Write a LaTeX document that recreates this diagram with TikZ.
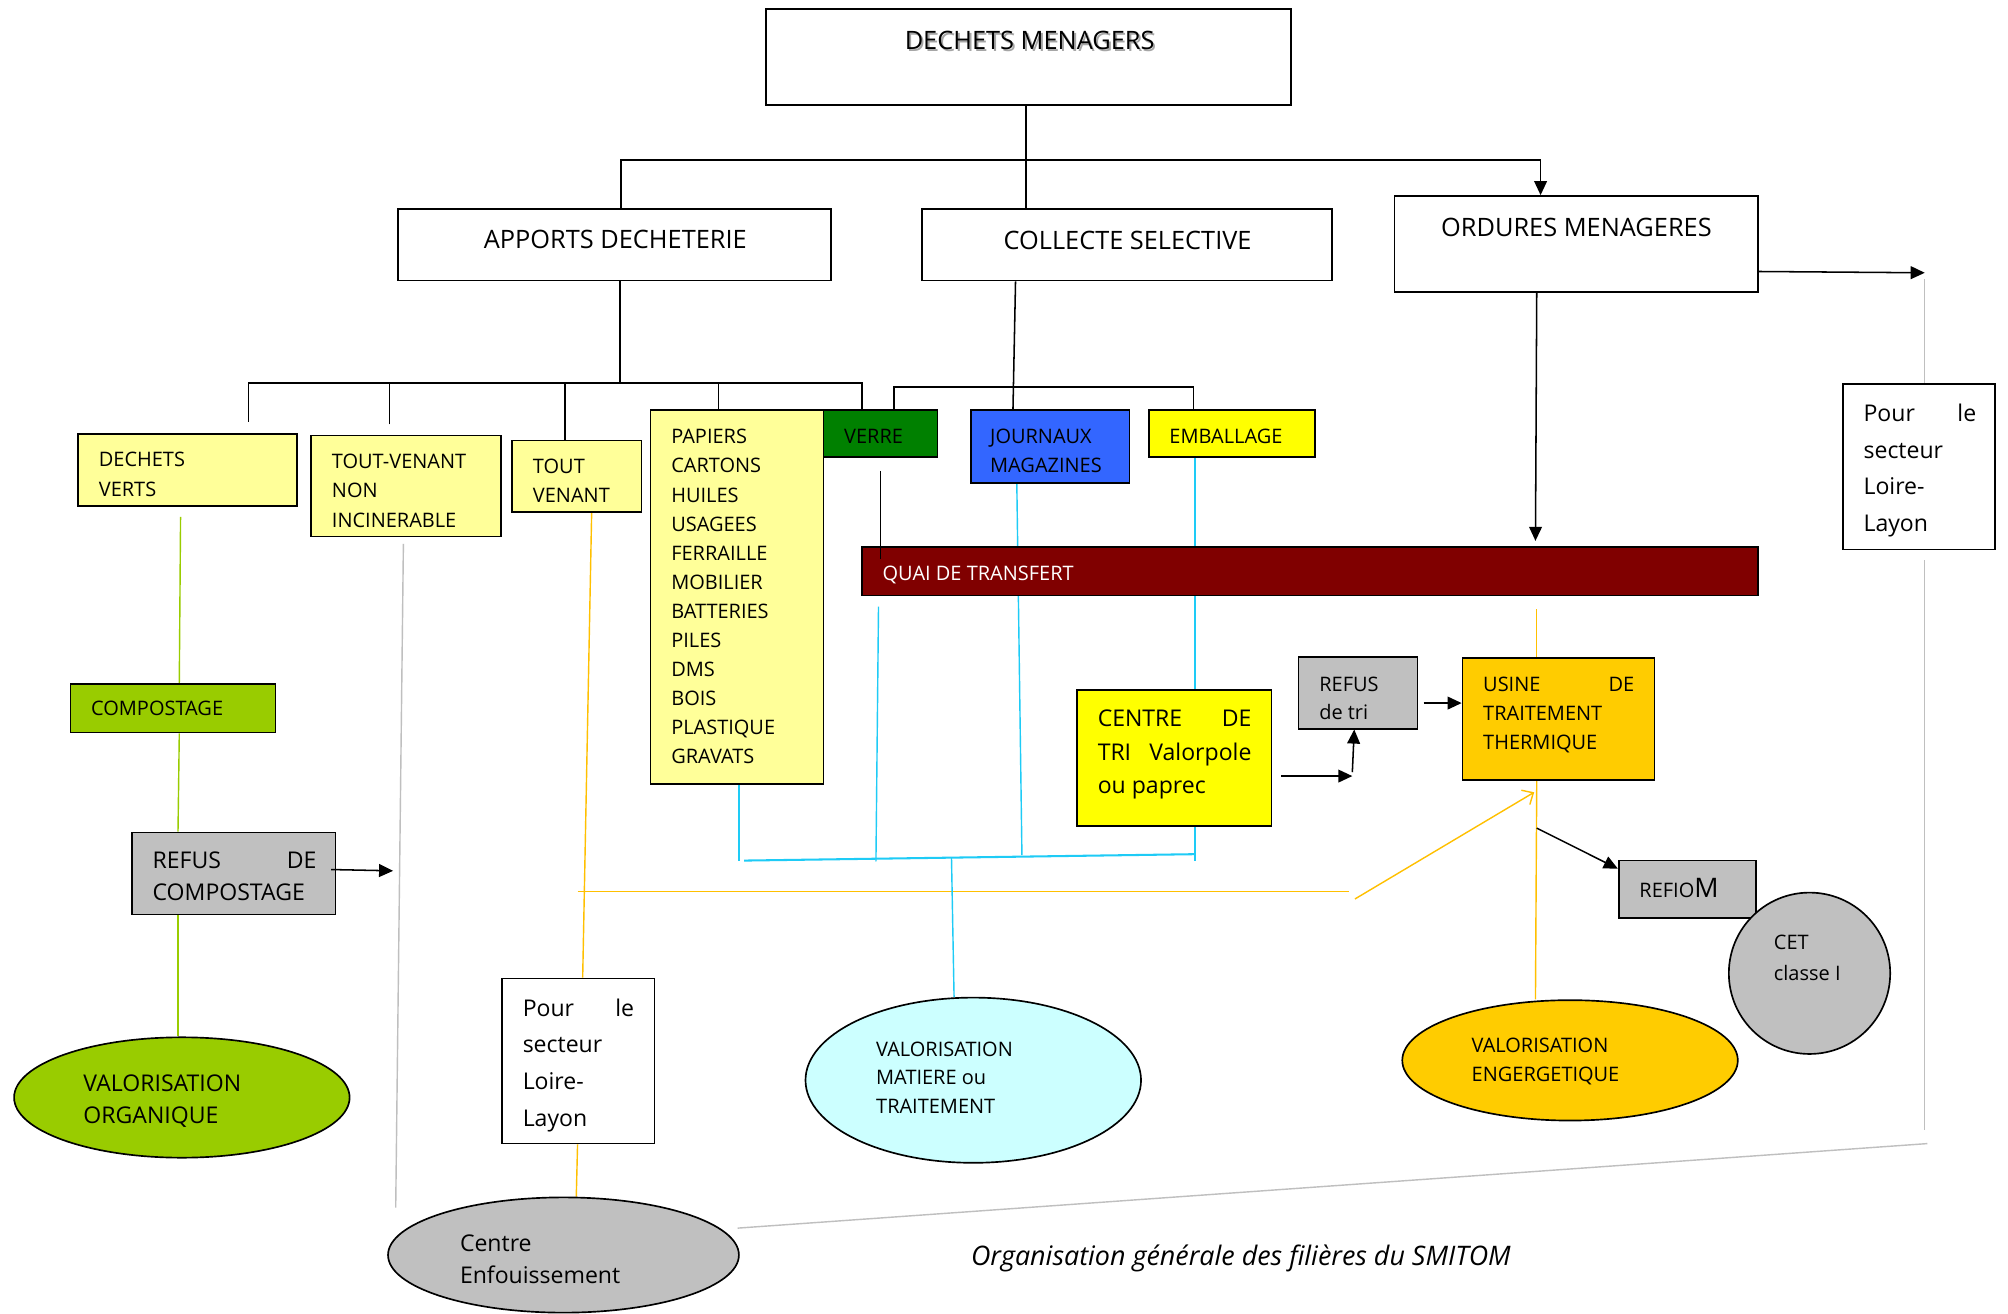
\documentclass[tikz,border=0pt]{standalone}
\usepackage{fontspec}
\setmainfont{Open Sans}
\usetikzlibrary{shapes.geometric,arrows.meta,calc}
\pgfdeclarelayer{bg}
\pgfsetlayers{bg,main}
\definecolor{lyel}{HTML}{FFFF99}
\definecolor{vgreen}{HTML}{008000}
\definecolor{jblue}{HTML}{3366FF}
\definecolor{yel}{HTML}{FFFF00}
\definecolor{dred}{HTML}{800000}
\definecolor{lgreen}{HTML}{99CC00}
\definecolor{lgray}{HTML}{C0C0C0}
\definecolor{gold}{HTML}{FFCC00}
\definecolor{lcyan}{HTML}{CCFFFF}
\definecolor{cyanl}{HTML}{1ECBF6}
\definecolor{goldl}{HTML}{FFC000}
\definecolor{grayl}{HTML}{BFBFBF}
\newcommand\fSm{\fontsize{15.6}{18}\selectfont}
\newcommand\fMd{\fontsize{18}{22}\selectfont}
\newcommand\fLg{\fontsize{19.8}{24}\selectfont}
\newcommand\fCap{\fontsize{21}{25}\selectfont}
\newcommand\bxc[6][white]{\node[box,fill=#1,minimum width=#5-#3,minimum height=#6-#4] (#2) at ({(#3+#5)/2},{(#4+#6)/2}) {};}
\newcommand\elc[6][white]{\node[ell,fill=#1,minimum width=#5,minimum height=#6] (#2) at (#3,#4) {};}
\newcommand\tlines[6][]{\foreach \lt [count=\kt] in {#6}{\node[txt,#1] (#2\kt) at (#3,{#4+(\kt-1)*#5}) {\lt};}}
\begin{document}
\begin{tikzpicture}[x=1pt,y=-1pt,font=\fSm,
  box/.style={draw=black,line width=1.3pt,rectangle,inner sep=0pt},
  ell/.style={draw=black,line width=1.3pt,ellipse,inner sep=0pt},
  txt/.style={anchor=base west,inner sep=0pt},
  conn/.style={draw=black,line width=1.2pt},
  arr/.style={-{Triangle[length=11pt,width=10pt]}},
  yarr/.style={-{Straight Barb[length=7pt,width=13pt]}},
  gline/.style={draw=lgreen,line width=1.1pt},
  grline/.style={draw=grayl,line width=1.1pt},
  yline/.style={draw=goldl,line width=1.1pt},
  cline/.style={draw=cyanl,line width=1.1pt}]
\useasboundingbox (0,0) rectangle (1568,1026);
% boxes
\bxc{dm}{598}{7}{1008}{82}
\bxc{ad}{311}{163}{649}{219}
\bxc{cs}{720}{163}{1040}{219}
\bxc{om}{1089}{153}{1373}{228}
\bxc[lyel]{dv}{61}{339}{232}{395}
\bxc[lyel]{tvn}{243}{340}{391}{419}
\bxc[lyel]{tv}{400}{344}{501}{400}
\bxc[lyel]{pap}{508}{320}{643}{612}
\bxc[vgreen]{ver}{643}{320}{732}{357}
\bxc[jblue]{jou}{758}{320}{882}{377}
\bxc[yel]{emb}{897}{320}{1027}{357}
\bxc[dred]{quai}{673}{427}{1373}{465}
\bxc[lgreen]{comp}{55}{534}{215}{572}
\bxc[lgray]{rc}{103}{650}{262}{714}
\bxc[yel]{ctri}{841}{539}{993}{645}
\bxc[lgray]{rt}{1014}{513}{1107}{569}
\bxc[gold]{us}{1142}{514}{1292}{609}
\bxc[lgray]{rf}{1264}{672}{1371}{717}
\bxc{prb}{1439}{300}{1558}{429}
\bxc{pm}{392}{764}{511}{893}
\elc[lgreen]{vo}{142}{857}{262}{94}
\elc[lcyan]{vm}{760}{843.5}{262}{129}
\elc[gold]{ve}{1226}{828}{262}{94}
\elc[lgray]{cet}{1413}{760}{126}{126}
\elc[lgray]{cent}{440}{980}{274}{90}
% free coordinates
\coordinate (bar1) at (801,125);
\coordinate (bar2) at (484,299);
\coordinate (bar3) at (800,302);
\coordinate (omr) at (1503,213);
\coordinate (kink) at (1056,606);
\coordinate (rcend) at (307,680);
\coordinate (tvnend) at (309,943);
\coordinate (grayR) at (1503,882);
\coordinate (grayB) at (1505,893);
\coordinate (yelL) at (451,696);
\coordinate (yelR) at (1053,696);
\coordinate (yelS) at (1058,702);
\coordinate (cyL) at (581,672);
\coordinate (cyR) at (933,667);
\coordinate (cyM) at (743,670);
\begin{pgfonlayer}{bg}
\fill[white] (0,0) rectangle (1568,1026);
% black tree
\draw[conn] ($(dm.south)+(-2,0)$) -- ($(dm.south|-cs.north)+(-2,0)$);
\draw[conn,arr] ($(ad.north)+(5,0)$) |- (bar1) -| ($(om.north)+(-28,0)$);
\draw[conn] ($(ad.south)+(4,0)$) -- (bar2);
\draw[conn] ($(dv.north)+(47.5,-9)$) |- (bar2) -| ($(ver.north)+(-14.5,0)$);
\draw[conn] ($(tvn.north)+(-13,-8)$) -- ($(tvn.north|-bar2)+(-13,0)$);
\draw[conn] ($(tv.north)+(-9.5,0)$) -- ($(tv.north|-bar2)+(-9.5,0)$);
\draw[conn] ($(pap.north)+(-14.5,0)$) -- ($(pap.north|-bar2)+(-14.5,0)$);
\draw[conn] ($(cs.south)+(-87,0)$) -- ($(jou.north)+(-29,0)$);
\draw[conn] ($(ver.north)+(10.5,0)$) |- (bar3) -| ($(emb.north)+(-30,0)$);
\draw[conn,arr] ($(om.south)+(-31,0)$) -- ($(quai.north)+(176,-4)$);
\draw[conn,arr] ($(om.east)+(0,21.5)$) -- (omr);
% green
\draw[gline] ($(dv.south)+(-5.5,8)$) -- ($(comp.north)+(5,0)$);
\draw[gline] ($(comp.south)+(5,0)$) -- ($(rc.north)+(-43.5,0)$);
\draw[gline] ($(rc.south)+(-43.5,0)$) -- ($(vo.north)+(-3,0)$);
% gray
\draw[grline] ($(tvn.south)+(-2,5)$) -- (tvnend);
\draw[grline] ($(omr)+(0,5)$) -- ($(prb.north)+(4.5,0)$);
\draw[grline] ($(prb.south)+(4.5,8)$) -- (grayR);
\draw[grline] (grayB) -- ($(cent.center)+(136,-21)$);
% yellow
\draw[yline] ($(tv.south)+(11.5,0)$) -- ($(pm.north)+(3.5,0)$);
\draw[yline] ($(pm.south)+(-0.5,0)$) -- ($(cent.north)+(10,0)$);
\draw[yline] (yelL) -- (yelR);
\draw[yline,yarr] (yelS) -- ($(us.south)+(-19,9)$);
\draw[yline] ($(quai.south)+(177,10)$) -- ($(us.north)+(-17,0)$);
\draw[yline] ($(us.south)+(-17,0)$) -- ($(ve.north)+(-27,0)$);
% cyan
\draw[cline] ($(pap.south)+(1.5,0)$) -- ($(pap.south)+(1.5,60)$);
\draw[cline] ($(quai.south)+(-337,8)$) -- ($(quai.south)+(-339,207)$);
\draw[cline] ($(jou.south)+(-26,0)$) -- ($(jou.south)+(-22,290)$);
\draw[cline] ($(emb.south)+(-29,0)$) -- ($(ctri.north)+(16,0)$);
\draw[cline] ($(ctri.south)+(16,0)$) -- ($(ctri.south)+(16,27)$);
\draw[cline,line width=1.6pt] (cyL) -- (cyR);
\draw[cline] (cyM) -- ($(vm.north)+(-15,0)$);
\end{pgfonlayer}
% black connectors on top
\draw[conn] ($(ver.south)+(0,10)$) -- ($(ver.south|-quai.north)+(0,10)$);
\draw[conn,arr] ($(ctri.east)+(7,14)$) -- (kink);
\draw[conn,arr] ($(kink)+(0,-3)$) -- ($(rt.south)+(-3,0)$);
\draw[conn,arr] ($(rt.east)+(4,8)$) -- ($(us.west|-rt.east)+(0,8)$);
\draw[conn,arr] ($(us.south)+(-17,37)$) -- ($(rf.north west)+(0,7)$);
\draw[conn,arr] ($(rc.east)+(-4,-3)$) -- (rcend);
% texts
\node[anchor=base,font=\fLg,text=gray!70,inner sep=0pt] (tdmsh) at (805.5,40.5) {DECHETS MENAGERS};
\node[anchor=base,font=\fLg,inner sep=0pt] (tdm) at (804,39) {DECHETS MENAGERS};
\node[anchor=base,font=\fLg,inner sep=0pt] (tad) at (480.5,194) {APPORTS DECHETERIE};
\node[anchor=base,font=\fLg,inner sep=0pt] (tcs) at (880.5,195) {COLLECTE SELECTIVE};
\node[anchor=base,font=\fLg,inner sep=0pt] (tom) at (1231,185) {ORDURES MENAGERES};
\tlines{tdv}{77}{364.6}{23}{DECHETS,VERTS}
\tlines{ttvn}{259}{365.6}{23}{TOUT-VENANT,NON,INCINERABLE}
\tlines{ttv}{416}{369.6}{23}{TOUT,VENANT}
\tlines{tpap}{524}{346.6}{22.7}{PAPIERS,CARTONS,HUILES,USAGEES,FERRAILLE,MOBILIER,BATTERIES,PILES,DMS,BOIS,PLASTIQUE,GRAVATS}
\tlines{tver}{659}{346.6}{0}{VERRE}
\tlines{tjou}{773}{346.6}{22}{JOURNAUX,MAGAZINES}
\tlines{temb}{913}{346.6}{0}{EMBALLAGE}
\tlines[text=white]{tquai}{689}{453.6}{0}{QUAI DE TRANSFERT}
\tlines{tcomp}{71}{558.6}{0}{COMPOSTAGE}
\tlines[font=\fMd]{trc}{119}{678.5}{25}{\hbox to 128pt{REFUS\hfill DE},COMPOSTAGE}
\tlines[font=\fMd]{tvo}{65}{852.5}{25}{VALORISATION,ORGANIQUE}
\tlines[font=\fMd]{tpm}{408}{793.5}{28.7}{\hbox to 87pt{Pour\hfill le},secteur,Loire-,Layon}
\tlines[font=\fMd]{tprb}{1455}{329.5}{28.5}{\hbox to 88pt{Pour\hfill le},secteur,Loire-,Layon}
\tlines[font=\fMd]{tcent}{359}{977.5}{25}{Centre,Enfouissement}
\tlines{tvm}{684}{824.6}{22.5}{VALORISATION,MATIERE ou,TRAITEMENT}
\tlines[font=\fMd]{tctri}{857}{567.5}{26}{\hbox to 120pt{CENTRE\hfill DE},\hbox to 120pt{TRI\hfill Valorpole},ou paprec}
\tlines{trt}{1030}{539.6}{22}{REFUS,de tri}
\tlines{tus}{1158}{539.6}{23}{\hbox to 118pt{USINE\hfill DE},TRAITEMENT,THERMIQUE}
\tlines{trf}{1280}{700.6}{0}{REFIO{\fontsize{21}{21}\selectfont M}}
\tlines{tcet}{1385}{741.6}{24}{CET,classe I}
\tlines{tve}{1149}{821.6}{23}{VALORISATION,ENGERGETIQUE}
\node[anchor=base,font=\fCap\itshape,inner sep=0pt] (cap) at (969,988) {Organisation générale des filières du SMITOM};
\end{tikzpicture}
\end{document}
